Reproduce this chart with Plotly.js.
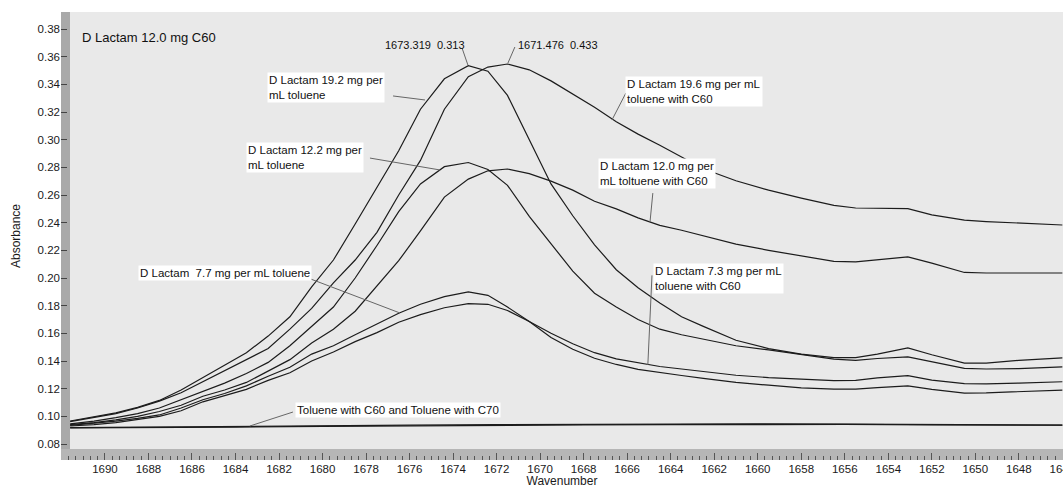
<!DOCTYPE html>
<html><head><meta charset="utf-8">
<script src="https://cdn.plot.ly/plotly-3.0.1.min.js"></script>
<style>html,body{margin:0;padding:0;background:#fff}#chart{width:1063px;height:488px}</style>
</head><body><div id="chart"></div>
<script>
const wavenumber = [1691.6, 1690.5, 1689.5, 1688.5, 1687.5, 1686.5, 1685.5, 1684.5, 1683.5, 1682.5, 1681.5, 1680.5, 1679.5, 1678.5, 1677.5, 1676.5, 1675.5, 1674.4, 1673.3, 1672.4, 1671.5, 1670.5, 1669.5, 1668.5, 1667.5, 1666.5, 1665.5, 1664.5, 1663.5, 1662.5, 1661, 1659.5, 1658, 1656.5, 1655.5, 1654.5, 1653.1, 1652, 1650.5, 1649.5, 1648, 1646];
const lactam192Toluene = [0.0966, 0.0995, 0.1025, 0.1065, 0.1115, 0.119, 0.128, 0.137, 0.146, 0.158, 0.172, 0.1935, 0.213, 0.239, 0.266, 0.292, 0.322, 0.344, 0.3535, 0.3495, 0.332, 0.300, 0.268, 0.245, 0.224, 0.206, 0.193, 0.182, 0.172, 0.165, 0.155, 0.149, 0.145, 0.1425, 0.1425, 0.145, 0.1495, 0.1445, 0.1385, 0.1385, 0.1405, 0.1422];
const lactam196C60 = [0.0962, 0.099, 0.102, 0.106, 0.111, 0.117, 0.125, 0.133, 0.141, 0.149, 0.163, 0.178, 0.1965, 0.213, 0.233, 0.260, 0.285, 0.322, 0.3455, 0.3525, 0.3547, 0.3505, 0.3425, 0.333, 0.3235, 0.313, 0.304, 0.296, 0.2872, 0.279, 0.2703, 0.2635, 0.2578, 0.2525, 0.2506, 0.2506, 0.2502, 0.2457, 0.2418, 0.2408, 0.2398, 0.2383];
const lactam122Toluene = [0.0945, 0.0965, 0.099, 0.102, 0.106, 0.112, 0.118, 0.124, 0.131, 0.139, 0.151, 0.165, 0.179, 0.200, 0.2235, 0.248, 0.268, 0.2805, 0.2835, 0.2785, 0.267, 0.2445, 0.225, 0.205, 0.189, 0.179, 0.170, 0.163, 0.159, 0.156, 0.151, 0.148, 0.1445, 0.1414, 0.1405, 0.1418, 0.1430, 0.1395, 0.1347, 0.1342, 0.1345, 0.1357];
const lactam120C60 = [0.094, 0.0955, 0.0975, 0.100, 0.1035, 0.108, 0.1145, 0.119, 0.1245, 0.1325, 0.141, 0.153, 0.163, 0.176, 0.194, 0.2125, 0.234, 0.2585, 0.2715, 0.2775, 0.2788, 0.2755, 0.270, 0.2635, 0.2555, 0.250, 0.2435, 0.238, 0.2345, 0.2305, 0.2245, 0.220, 0.216, 0.212, 0.2116, 0.213, 0.2152, 0.2108, 0.204, 0.2036, 0.2036, 0.2036];
const lactam77Toluene = [0.0935, 0.0948, 0.0965, 0.0985, 0.101, 0.106, 0.112, 0.1165, 0.122, 0.129, 0.1355, 0.145, 0.151, 0.159, 0.1665, 0.1745, 0.181, 0.1865, 0.190, 0.1875, 0.179, 0.1685, 0.157, 0.1485, 0.142, 0.1375, 0.134, 0.1315, 0.1295, 0.1275, 0.1245, 0.1225, 0.1205, 0.1196, 0.1196, 0.1207, 0.1220, 0.1195, 0.1168, 0.1170, 0.1178, 0.119];
const lactam73C60 = [0.093, 0.094, 0.0955, 0.0975, 0.100, 0.104, 0.1105, 0.115, 0.1195, 0.126, 0.1315, 0.140, 0.1465, 0.154, 0.1605, 0.168, 0.1735, 0.1785, 0.1815, 0.181, 0.1765, 0.1685, 0.160, 0.1525, 0.146, 0.1415, 0.1385, 0.136, 0.1342, 0.1322, 0.1297, 0.128, 0.1268, 0.1258, 0.126, 0.1278, 0.1294, 0.1262, 0.1236, 0.1234, 0.124, 0.125];
const baseWavenumber = [1691.6, 1688, 1684, 1680, 1676, 1672, 1668, 1664, 1660, 1656, 1652, 1648, 1646];
const tolueneC60 = [0.0916, 0.0918, 0.0922, 0.0928, 0.0933, 0.0936, 0.0938, 0.0940, 0.0942, 0.0942, 0.0938, 0.0936, 0.0936];
const tolueneC70 = [0.0918, 0.0921, 0.0924, 0.0930, 0.0936, 0.0940, 0.0943, 0.0945, 0.0945, 0.0944, 0.0941, 0.0938, 0.0937];
const xTickValues = [1690, 1688, 1686, 1684, 1682, 1680, 1678, 1676, 1674, 1672, 1670, 1668, 1666, 1664, 1662, 1660, 1658, 1656, 1654, 1652, 1650, 1648, 1646];

const seriesNames = ['D Lactam 19.2 mg per mL toluene', 'D Lactam 19.6 mg per mL toluene with C60', 'D Lactam 12.2 mg per mL toluene', 'D Lactam 12.0 mg per mL toluene with C60', 'D Lactam 7.7 mg per mL toluene', 'D Lactam 7.3 mg per mL toluene with C60'];
const seriesValues = [lactam192Toluene, lactam196C60, lactam122Toluene, lactam120C60, lactam77Toluene, lactam73C60];

const traces = seriesValues.map((v, i) => ({
  x: wavenumber, y: v, type: 'scatter', mode: 'lines', name: seriesNames[i],
  line: {color: '#1c1c1c', width: 1.2}, hoverinfo: 'skip'
}));
traces.push({x: baseWavenumber, y: tolueneC60, type: 'scatter', mode: 'lines', name: 'Toluene with C60', line: {color: '#1c1c1c', width: 1.3}, hoverinfo: 'skip'});
traces.push({x: baseWavenumber, y: tolueneC70, type: 'scatter', mode: 'lines', name: 'Toluene with C70', line: {color: '#1c1c1c', width: 1.3}, hoverinfo: 'skip'});

const NB = '\u00A0';
const FONT = 'Liberation Sans, Arial, sans-serif';
function box(text, x, y) {
  return {text: text, x: x, y: y, xref: 'x', yref: 'y', showarrow: false, xanchor: 'left', yanchor: 'top', align: 'left',
    bgcolor: '#ffffff', borderpad: 1, font: {size: 11.5, color: '#111', family: FONT}};
}
function plain(text, x, y, size) {
  return {text: text, x: x, y: y, xref: 'x', yref: 'y', showarrow: false, xanchor: 'left', yanchor: 'middle', align: 'left',
    font: {size: size, color: '#111', family: FONT}};
}
function leader(x0, y0, x1, y1) {
  return {type: 'line', xref: 'x', yref: 'y', x0: x0, y0: y0, x1: x1, y1: y1, line: {color: '#666', width: 1}, layer: 'above'};
}

const annotations = [
  plain('D Lactam 12.0 mg C60', 1691.15, 0.3739, 13),
  plain('1673.319' + NB + NB + '0.313', 1677.22, 0.3684, 11),
  plain('1671.476' + NB + NB + '0.433', 1671.11, 0.3684, 11),
  box('D Lactam 19.2 mg per<br>mL toluene', 1682.56, 0.3489),
  box('D Lactam 12.2 mg per<br>mL toluene', 1683.52, 0.2983),
  box('D Lactam 19.6 mg per mL<br>toluene with C60', 1666.10, 0.3460),
  box('D Lactam 12.0 mg per<br>mL toltuene with C60', 1667.34, 0.2867),
  box('D Lactam' + NB + NB + '7.7 mg per mL toluene', 1688.48, 0.2094),
  box('D Lactam 7.3 mg per mL<br>toluene with C60', 1664.82, 0.2108),
  box('Toluene with C60 and Toluene with C70', 1681.27, 0.1104)
];

const shapes = [
  {type: 'rect', xref: 'paper', yref: 'paper', x0: 0, x1: 9 / 1002, y0: 0, y1: 1, fillcolor: '#a9a9a9', line: {width: 0}, layer: 'below'},
  {type: 'rect', xref: 'paper', yref: 'paper', x0: 0, x1: 1, y0: 0, y1: 11 / 448, fillcolor: '#b6b6b6', line: {width: 0}, layer: 'below'},
  leader(1676.76, 0.3316, 1675.29, 0.3287),
  leader(1677.82, 0.2867, 1674.60, 0.2781),
  leader(1666.06, 0.3337, 1666.70, 0.3142),
  leader(1664.82, 0.2614, 1664.95, 0.2405),
  leader(1680.90, 0.2014, 1676.44, 0.1747),
  leader(1664.86, 0.2019, 1665.05, 0.1371),
  leader(1681.36, 0.1031, 1683.34, 0.0930),
  leader(1673.59, 0.3663, 1673.32, 0.3540),
  leader(1671.16, 0.3670, 1671.48, 0.3554)
];

const layout = {
  width: 1063, height: 488,
  margin: {l: 61, r: 0, t: 12, b: 28, pad: 0},
  paper_bgcolor: '#ffffff', plot_bgcolor: '#e9e9e9',
  showlegend: false,
  font: {family: FONT, size: 11, color: '#1a1a1a'},
  xaxis: {
    range: [1692.02, 1645.97], tickmode: 'array', tickvals: xTickValues, ticktext: xTickValues.map(String),
    ticks: 'inside', ticklen: 7, tickcolor: '#555', tickwidth: 1, ticklabeloverflow: 'allow',
    showgrid: false, zeroline: false, showline: false, tickfont: {size: 11.5, color: '#1a1a1a'},
    minor: {tickmode: 'linear', dtick: 1 / 3, tick0: 1690, ticks: 'inside', ticklen: 4, tickcolor: '#555', showgrid: false},
    title: {text: 'Wavenumber', font: {size: 12, color: '#1a1a1a'}, standoff: 2}
  },
  yaxis: {
    range: [0.06843, 0.3923], tick0: 0, dtick: 0.02, tickformat: '.2f', ticks: 'inside', ticklen: 6, tickcolor: '#444',
    showgrid: false, zeroline: false, showline: false, tickfont: {size: 11.5, color: '#1a1a1a'},
    title: {text: 'Absorbance', font: {size: 12, color: '#1a1a1a'}, standoff: 14}
  },
  shapes: shapes,
  annotations: annotations
};

Plotly.newPlot('chart', traces, layout, {staticPlot: true, displayModeBar: false});
</script>
</body></html>
